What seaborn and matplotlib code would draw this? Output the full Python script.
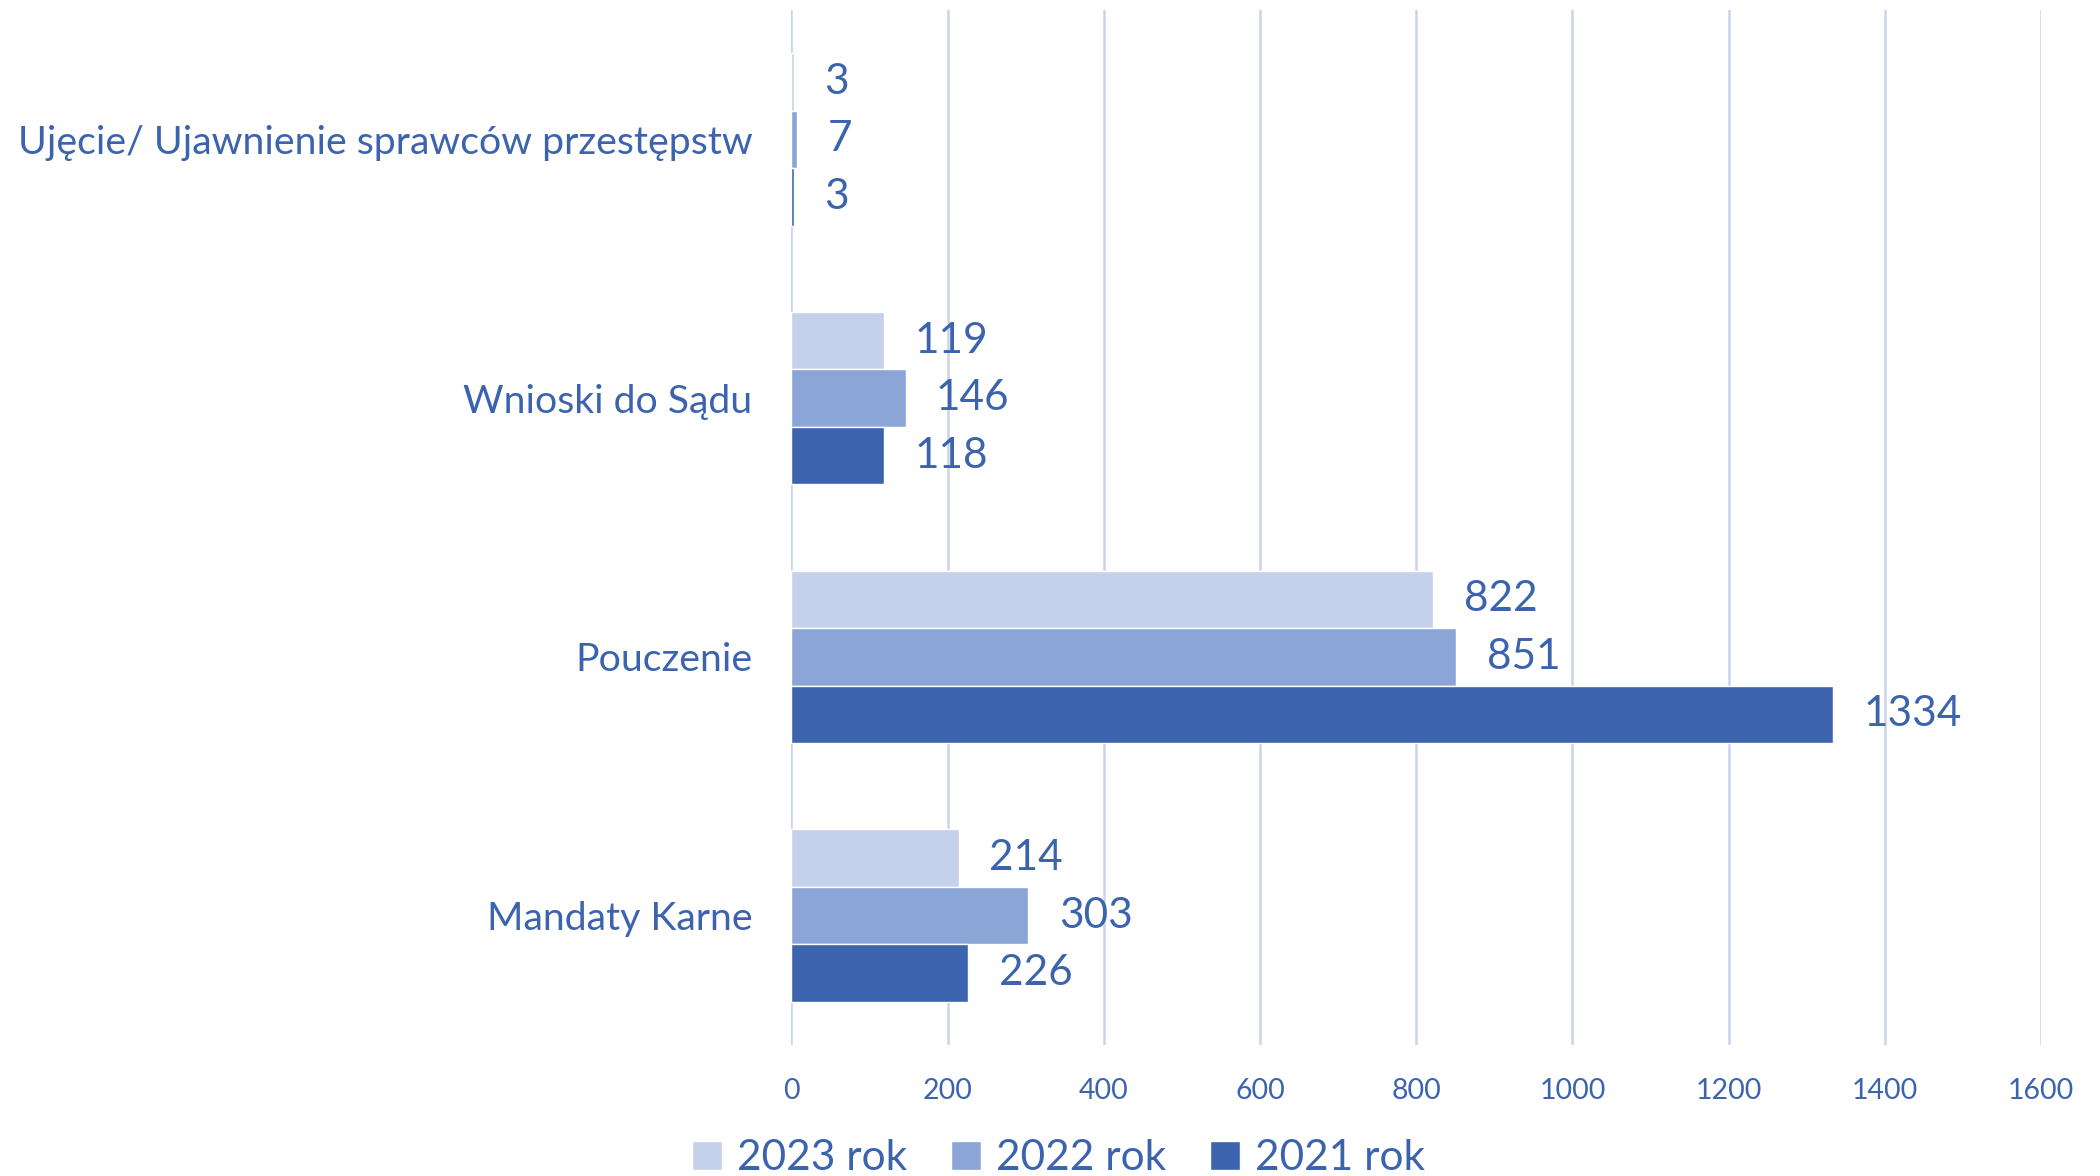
import pandas as pd
import matplotlib
matplotlib.use("Agg")
import matplotlib.pyplot as plt
import seaborn as sns

# data
categories = ["Ujęcie/ Ujawnienie sprawców przestępstw", "Wnioski do Sądu", "Pouczenie", "Mandaty Karne"]
years = ["2023 rok", "2022 rok", "2021 rok"]
vals_2023 = [3, 119, 822, 214]
vals_2022 = [7, 146, 851, 303]
vals_2021 = [3, 118, 1334, 226]
x_ticks = [0, 200, 400, 600, 800, 1000, 1200, 1400, 1600]

colors = ["#C5D1EB", "#8CA5D7", "#3C64AE"]
text_color = "#3C64AE"
grid_color = "#C9D4EC"

rows = []
for year, vals in zip(years, [vals_2023, vals_2022, vals_2021]):
    for cat, v in zip(categories, vals):
        rows.append({"category": cat, "year": year, "value": v})
df = pd.DataFrame(rows)

sns.set_style("white")
plt.rcParams['font.family'] = ['Lato', 'DejaVu Sans']

fig = plt.figure(figsize=(21, 11.76), dpi=100)
ax = fig.add_axes([0.3769, 0.1114, 0.595, 0.8801])

sns.barplot(data=df, y="category", x="value", hue="year", order=categories,
            hue_order=years, palette=colors, orient="h", width=0.667, gap=0,
            saturation=1, ax=ax, legend=True, errorbar=None)

for cont in ax.containers:
    ax.bar_label(cont, padding=22, fontsize=30.5, color=text_color)

ax.set_xlim(0, 1600)
ax.set_ylim(3.5, -0.5)
ax.set_xticks(x_ticks)
ax.set_xticklabels([str(t) for t in x_ticks])
ax.grid(axis="x", color=grid_color, linewidth=1.8, zorder=0)
ax.set_axisbelow(True)
for s in ax.spines.values():
    s.set_visible(False)
ax.tick_params(axis="x", length=0, pad=24, labelsize=20.5, labelcolor=text_color)
ax.tick_params(axis="y", length=0, pad=28, labelsize=28.3, labelcolor=text_color)
ax.set_xlabel("")
ax.set_ylabel("")

handles, labels = ax.get_legend_handles_labels()
ax.get_legend().remove()
fig.legend(handles, labels, loc="center", bbox_to_anchor=(0.504, 0.015),
           ncol=3, frameon=False, fontsize=30.5, labelcolor=text_color,
           handlelength=0.7, handleheight=0.7, handletextpad=0.35, columnspacing=1.05)

fig.savefig("out.png", dpi=100)
